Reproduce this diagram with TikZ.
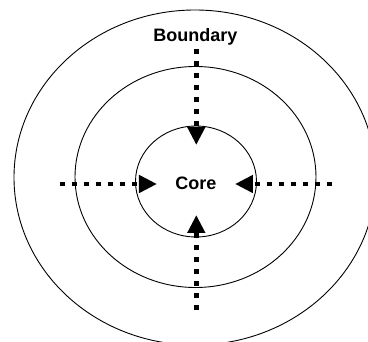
\documentclass[tikz,border=0pt]{standalone}
\usepackage{fontspec}
\setmainfont{Liberation Sans}
\usetikzlibrary{arrows.meta,shapes.geometric}
\begin{document}
\begin{tikzpicture}[x=1pt,y=-1pt,
  ring/.style={draw, line width=0.9pt, ellipse, inner sep=0pt},
  flow/.style={line width=4.6pt, dash pattern=on 4.6pt off 7.4pt, line cap=butt,
    -{Triangle[length=18pt,width=17pt]}},
  lbl/.style={font=\bfseries\fontsize{18}{20}\selectfont, inner sep=0pt, anchor=base}]
\useasboundingbox (0,0) rectangle (368,342);
\clip (0,0) rectangle (368,342);
\node[ring, minimum width=362pt, minimum height=335pt] (outer) at (195,177.5) {};
\node[ring, minimum width=241pt, minimum height=221pt] (middle) at (195.5,177) {};
\node[ring, minimum width=121pt, minimum height=111pt] (inner) at (196,181.5) {};
\node[lbl] (boundary) at (195.5,41.7) {Boundary};
\node[lbl] (core) at (196,189.5) {Core};
\coordinate (ts) at (196.3,49);
\coordinate (tt) at (196.3,145);
\coordinate (bs) at (196.3,310);
\coordinate (bt) at (196.3,215);
\coordinate (ls) at (60,184);
\coordinate (lt) at (157,184);
\coordinate (rs) at (332,184);
\coordinate (rt) at (235,184);
\draw[flow] (ts) -- (tt);
\draw[flow] (bs) -- (bt);
\draw[flow] (ls) -- (lt);
\draw[flow] (rs) -- (rt);
\end{tikzpicture}
\end{document}
